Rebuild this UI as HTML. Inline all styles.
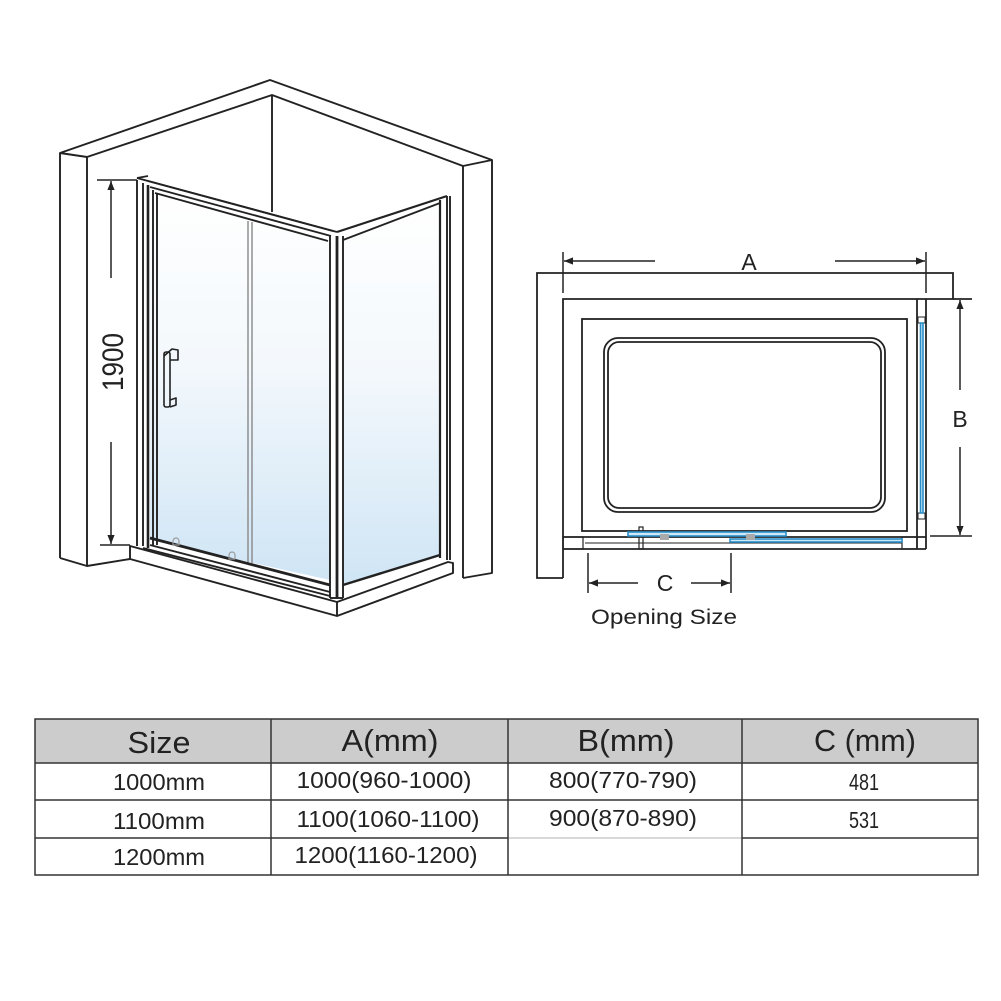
<!DOCTYPE html>
<html><head><meta charset="utf-8"><style>
html,body{margin:0;padding:0;background:#fff;width:1001px;height:1001px;overflow:hidden}
svg{display:block}
text{font-family:"Liberation Sans",Arial,sans-serif;fill:#222}
</style></head><body>
<svg width="1001" height="1001" viewBox="0 0 1001 1001" xmlns="http://www.w3.org/2000/svg">
<defs>
<linearGradient id="g" x1="0" y1="0" x2="0" y2="1">
<stop offset="0" stop-color="#ffffff"/><stop offset="0.45" stop-color="#f3f8fc"/><stop offset="1" stop-color="#cfe5f5"/>
</linearGradient>
<marker id="ar" viewBox="0 0 10 10" refX="10" refY="5" markerWidth="9" markerHeight="9" orient="auto-start-reverse" markerUnits="userSpaceOnUse"><path d="M0,1 L10,5 L0,9 Z" fill="#222"/></marker>
</defs>

<!-- ========== 3D view ========== -->
<g stroke="#222" stroke-width="1.9" fill="none" stroke-linejoin="round">
<polyline points="60,558 60,153 270,80 492,160 492,573 463,578"/>
<polyline points="87,566 87,157 272,95 463,166 463,578"/>
<line x1="60" y1="153" x2="87" y2="157"/>
<line x1="463" y1="166" x2="492" y2="160"/>
<line x1="272" y1="95" x2="272" y2="212"/>
<polyline points="60,558 87,566 130,559"/>
<polygon points="130,546 337,602 448,562 453,563 453,573 337,616 130,559" fill="#fff"/>
<line x1="337" y1="602" x2="337" y2="616"/>
<line x1="143" y1="548" x2="330" y2="596"/>
<polygon points="150,190 330,240 330,580 150,540" fill="url(#g)" stroke="none"/>
<polygon points="343,240 440,203 440,555 343,585" fill="url(#g)" stroke="none"/>
<line x1="137" y1="180" x2="137" y2="546"/>
<line x1="143" y1="183" x2="143" y2="546"/>
<line x1="148" y1="185" x2="148" y2="548" stroke-width="2.6"/>
<line x1="153" y1="190" x2="153" y2="545"/>
<line x1="157" y1="193" x2="157" y2="545"/>
<line x1="137" y1="178" x2="337" y2="232"/>
<line x1="148" y1="181" x2="333" y2="231"/>
<line x1="150" y1="187" x2="331" y2="236"/>
<line x1="155" y1="193" x2="328" y2="241"/>
<line x1="137" y1="178" x2="148" y2="176"/>
<line x1="248" y1="221" x2="248" y2="563" stroke="#888" stroke-width="1.4"/>
<line x1="252" y1="222" x2="252" y2="563" stroke="#888" stroke-width="1.4"/>
<line x1="150" y1="538" x2="330" y2="585" stroke-width="2.8"/>
<line x1="150" y1="545" x2="330" y2="592"/>
<line x1="330" y1="235" x2="330" y2="598"/>
<line x1="337" y1="236" x2="337" y2="598" stroke-width="2.8"/>
<line x1="343" y1="236" x2="343" y2="598"/>
<line x1="330" y1="598" x2="343" y2="598"/>
<line x1="337" y1="232" x2="447" y2="196" stroke-width="2.2"/>
<line x1="343" y1="240" x2="440" y2="203"/>
<line x1="343" y1="585" x2="440" y2="555" stroke-width="2.4"/>
<line x1="440" y1="200" x2="440" y2="558" stroke-width="2.2"/>
<line x1="447" y1="196" x2="447" y2="560"/>
<line x1="450" y1="196" x2="450" y2="560"/>
<rect x="164" y="352" width="6" height="55" rx="2" stroke-width="1.6"/>
<polyline points="164,356 172,349 178,350 178,360 170,360" stroke-width="1.6"/>
<polyline points="170,400 176,398 176,405 170,407" stroke-width="1.6"/>
<path d="M173,541 a3,3 0 0 1 6,0 v4 h-6 z" stroke="#999" stroke-width="1.2"/>
<path d="M229,555 a3,3 0 0 1 6,0 v4 h-6 z" stroke="#999" stroke-width="1.2"/>
</g>
<g stroke="#222" stroke-width="1.5">
<line x1="97" y1="180" x2="137" y2="180"/>
<line x1="100" y1="545" x2="130" y2="545"/>
<line x1="111" y1="278" x2="111" y2="181" marker-end="url(#ar)"/>
<line x1="111" y1="442" x2="111" y2="544" marker-end="url(#ar)"/>
</g>
<text x="0" y="0" font-size="30" text-anchor="middle" textLength="58" lengthAdjust="spacingAndGlyphs" transform="translate(123,362) rotate(-90)">1900</text>

<!-- ========== plan view ========== -->
<g stroke="#222" stroke-width="1.8" fill="none">
<polyline points="563,578 537,578 537,273 953,273 953,299 563,299 563,578"/>
<line x1="953" y1="299" x2="972" y2="299"/>
<rect x="582" y="319" width="325" height="212"/>
<rect x="604" y="338" width="281" height="174" rx="14"/>
<rect x="608" y="342" width="273" height="166" rx="11"/>
<line x1="563" y1="537" x2="926" y2="537"/>
<line x1="563" y1="549" x2="926" y2="549"/>
<line x1="585" y1="543" x2="902" y2="543" stroke-width="1"/>
<rect x="563" y="537" width="20" height="12" stroke-width="1.2"/>
<rect x="902" y="537" width="15" height="12" stroke-width="1.2"/>
<rect x="639" y="527" width="4" height="22" stroke-width="1.2"/>
<line x1="917" y1="299" x2="917" y2="549"/>
<line x1="926" y1="299" x2="926" y2="549"/>
<rect x="918" y="317" width="7" height="6" stroke-width="1"/>
<rect x="918" y="513" width="7" height="6" stroke-width="1"/>
</g>
<g stroke="#2a8fc9" stroke-width="1.6" fill="#cfe8f7">
<rect x="920.5" y="323" width="2.5" height="190"/>
<rect x="628" y="532" width="158" height="4"/>
<rect x="730" y="539" width="172" height="3"/>
</g>
<rect x="660" y="534" width="9" height="6" fill="#aaa"/>
<rect x="746" y="534" width="9" height="6" fill="#aaa"/>
<g stroke="#222" stroke-width="1.5">
<line x1="563" y1="252" x2="563" y2="293"/>
<line x1="926" y1="252" x2="926" y2="293"/>
<line x1="655" y1="261" x2="564" y2="261" marker-end="url(#ar)"/>
<line x1="835" y1="261" x2="925" y2="261" marker-end="url(#ar)"/>
<line x1="960" y1="390" x2="960" y2="300" marker-end="url(#ar)"/>
<line x1="960" y1="447" x2="960" y2="535" marker-end="url(#ar)"/>
<line x1="930" y1="536" x2="972" y2="536"/>
<line x1="588" y1="553" x2="588" y2="593"/>
<line x1="731" y1="553" x2="731" y2="593"/>
<line x1="638" y1="583" x2="589" y2="583" marker-end="url(#ar)"/>
<line x1="691" y1="583" x2="730" y2="583" marker-end="url(#ar)"/>
</g>
<text x="749" y="270" font-size="23" text-anchor="middle">A</text>
<text x="960" y="427" font-size="23" text-anchor="middle">B</text>
<text x="665" y="591" font-size="23" text-anchor="middle">C</text>
<text x="664" y="624" font-size="21" text-anchor="middle" textLength="146" lengthAdjust="spacingAndGlyphs">Opening Size</text>

<!-- ========== table ========== -->
<rect x="35" y="719" width="943" height="44" fill="#cccccc"/>
<g stroke="#333" stroke-width="1.5" fill="none">
<rect x="35" y="719" width="943" height="156"/>
<line x1="35" y1="763" x2="978" y2="763"/>
<line x1="35" y1="800" x2="978" y2="800"/>
<line x1="35" y1="838" x2="508" y2="838"/>
<line x1="742" y1="838" x2="978" y2="838"/>
<line x1="508" y1="838" x2="742" y2="838" stroke="#ccc"/>
<line x1="271" y1="719" x2="271" y2="875"/>
<line x1="508" y1="719" x2="508" y2="875"/>
<line x1="742" y1="719" x2="742" y2="875"/>
</g>
<g font-size="31" text-anchor="middle">
<text x="159" y="753" textLength="63" lengthAdjust="spacingAndGlyphs">Size</text>
<text x="390" y="751" textLength="97" lengthAdjust="spacingAndGlyphs">A(mm)</text>
<text x="626" y="751" textLength="97" lengthAdjust="spacingAndGlyphs">B(mm)</text>
<text x="865" y="751" textLength="102" lengthAdjust="spacingAndGlyphs">C (mm)</text>
</g>
<g font-size="23" text-anchor="middle">
<text x="159" y="790" textLength="92" lengthAdjust="spacingAndGlyphs">1000mm</text>
<text x="384" y="788" textLength="175" lengthAdjust="spacingAndGlyphs">1000(960-1000)</text>
<text x="623" y="788" textLength="148" lengthAdjust="spacingAndGlyphs">800(770-790)</text>
<text x="864" y="790" textLength="30" lengthAdjust="spacingAndGlyphs">481</text>
<text x="159" y="829" textLength="92" lengthAdjust="spacingAndGlyphs">1100mm</text>
<text x="388" y="827" textLength="183" lengthAdjust="spacingAndGlyphs">1100(1060-1100)</text>
<text x="623" y="826" textLength="148" lengthAdjust="spacingAndGlyphs">900(870-890)</text>
<text x="864" y="828" textLength="30" lengthAdjust="spacingAndGlyphs">531</text>
<text x="159" y="865" textLength="92" lengthAdjust="spacingAndGlyphs">1200mm</text>
<text x="386" y="863" textLength="183" lengthAdjust="spacingAndGlyphs">1200(1160-1200)</text>
</g>
</svg>
</body></html>
